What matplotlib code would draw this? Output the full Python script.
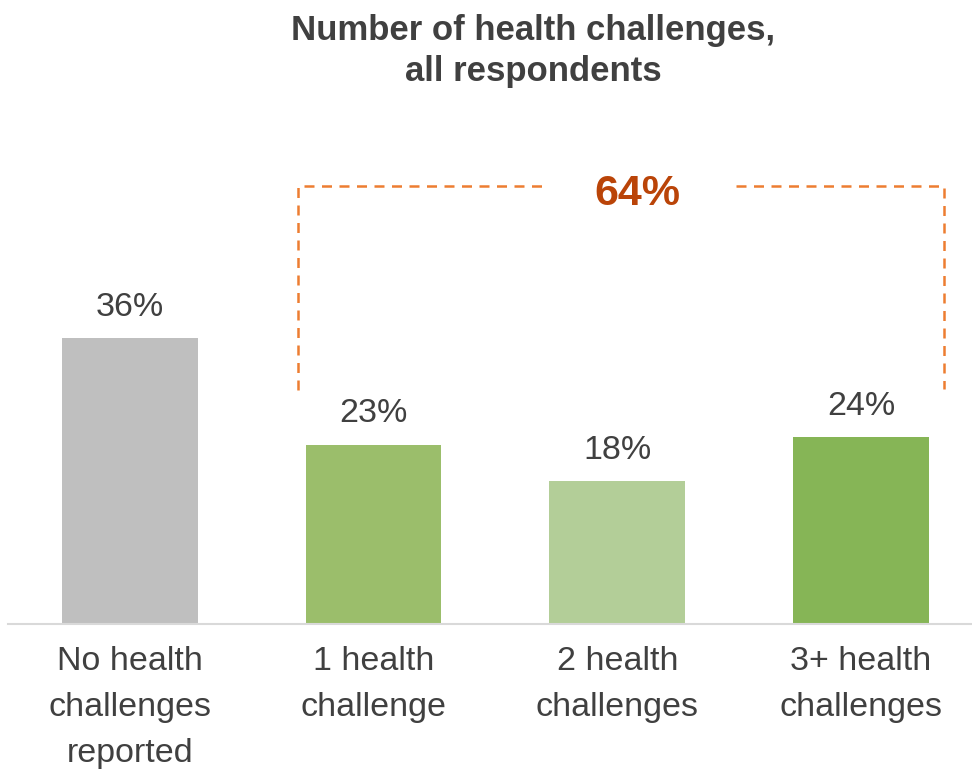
import numpy as np
import matplotlib
matplotlib.use('Agg')
import matplotlib.pyplot as plt

plt.rcParams['font.family'] = ['Liberation Sans', 'DejaVu Sans']

categories = ['No health\nchallenges\nreported', '1 health\nchallenge',
              '2 health\nchallenges', '3+ health\nchallenges']
values = [36.2, 22.7, 18.1, 23.7]
colors = ['#BFBFBF', '#9BBE6B', '#B3CE98', '#86B556']
total_label = '64%'
title = 'Number of health challenges,\nall respondents'

fig = plt.figure(figsize=(9.72, 7.74), dpi=100)
ax = fig.add_axes([8 / 972, 150 / 774, 964 / 972, 624 / 774])

x = np.arange(len(categories))
bars = ax.bar(x, values, width=0.557, color=colors, zorder=2)

for xi, v in zip(x, values):
    ax.annotate('{0:.0f}%'.format(v), (xi, v), xytext=(0, 11), textcoords='offset points',
                ha='center', va='bottom', fontsize=24.5, color='#404040')

ax.set_xlim(-0.5, 3.455)
ax.set_ylim(0, 79)
ax.set_xticks(x)
ax.set_xticklabels(categories, fontsize=24.5, color='#404040', linespacing=1.62)
ax.tick_params(axis='x', length=0, pad=16)
ax.set_yticks([])
for s in ['top', 'right', 'left']:
    ax.spines[s].set_visible(False)
ax.spines['bottom'].set_color('#D9D9D9')
ax.spines['bottom'].set_linewidth(1.5)

# dashed bracket over the bars with any health challenge
left = x[1] - 0.31
right = x[3] + 0.34
top = 55.4
low_l = 29.6
low_r = 29.8
gap_l, gap_r = 1.69, 2.487
bstyle = dict(color='#ED7D31', linestyle=(0, (4, 3)), linewidth=1.8, zorder=1)
ax.plot([left, left, gap_l], [low_l, top, top], **bstyle)
ax.plot([gap_r, right, right], [top, top, low_r], **bstyle)
ax.text((gap_l + gap_r) / 2 - 0.005, top - 0.9, total_label, ha='center', va='center',
        fontsize=31, fontweight='bold', color='#BA4408')

fig.text(533 / 972, 1 - 51 / 774, title, ha='center', va='center', fontsize=25,
         fontweight='bold', color='#404040', linespacing=1.3)

fig.savefig('out.png', dpi=100)
